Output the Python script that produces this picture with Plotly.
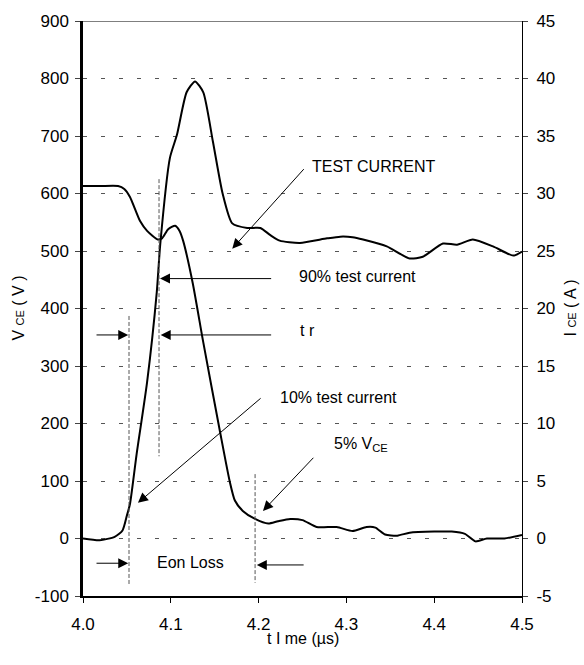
import plotly.graph_objects as go

# ---- data ----
t_vce = [4.000, 4.020, 4.040, 4.047, 4.0535, 4.065, 4.073, 4.085, 4.090, 4.097, 4.105, 4.110,
         4.114, 4.125, 4.137, 4.156, 4.167, 4.173, 4.182, 4.196, 4.211, 4.222, 4.236, 4.250,
         4.266, 4.289, 4.307, 4.323, 4.333, 4.344, 4.358, 4.372, 4.400, 4.420, 4.435, 4.447,
         4.460, 4.480, 4.500]
vce = [613, 613, 613, 608, 594, 552, 535, 520, 522, 538, 544, 535,
       518, 444, 341, 186, 100, 66, 48, 34, 26, 30, 34, 32,
       20, 20, 13, 20, 19, 7, 5, 10, 12, 12, 8, -5,
       0, 0, 6]

t_ice = [4.000, 4.019, 4.036, 4.045, 4.050, 4.0535, 4.061, 4.073, 4.084, 4.088, 4.099, 4.107,
         4.118, 4.1276, 4.137, 4.148, 4.159, 4.170, 4.187, 4.202, 4.213, 4.224, 4.247, 4.278,
         4.293, 4.307, 4.319, 4.346, 4.372, 4.387, 4.410, 4.426, 4.444, 4.467, 4.490, 4.500]
ice = [0.0, -0.15, 0.15, 0.7, 2.0, 3.0, 7.3, 13.6, 21.4, 25.6, 33.1, 35.1,
       38.8, 39.75, 38.8, 34.5, 30.0, 27.4, 27.0, 27.0, 26.4, 25.9, 25.7, 26.1,
       26.25, 26.2, 26.0, 25.4, 24.35, 24.5, 25.65, 25.55, 26.0, 25.4, 24.6, 24.95]

vce_ticks = [-100, 0, 100, 200, 300, 400, 500, 600, 700, 800, 900]
ice_ticks = [-5, 0, 5, 10, 15, 20, 25, 30, 35, 40, 45]
time_ticks = [4.0, 4.1, 4.2, 4.3, 4.4, 4.5]

# marker lines (time, y from, y to) in V-axis units
marker_lines = [(4.0866, 625, 143), (4.0524, 387, -81), (4.196, 112, -77)]

# labels: (text, x, y)
labels = [
    ("TEST CURRENT", 4.2585, 647),
    ("90% test current", 4.2437, 456),
    ("t r", 4.2449, 361),
    ("10% test current", 4.222, 246),
    ("5% V<sub>CE</sub>", 4.2836, 163),
    ("Eon Loss", 4.082, -42),
]
# arrows: (tail x, tail y, head x, head y)
arrows = [
    (4.253, 645, 4.170, 504),
    (4.216, 452, 4.0877, 452),
    (4.216, 354, 4.0885, 354),
    (4.0137, 354, 4.0515, 354),
    (4.204, 246, 4.0626, 62),
    (4.264, 143, 4.205, 48),
    (4.0137, -43, 4.0515, -43),
    (4.253, -46, 4.198, -46),
]

FONT = "Liberation Sans, Arial, sans-serif"

fig = go.Figure()
fig.add_trace(go.Scatter(x=t_vce, y=vce, mode="lines", yaxis="y",
                         line=dict(color="black", width=2, shape="spline", smoothing=0.6),
                         showlegend=False, hoverinfo="skip"))
fig.add_trace(go.Scatter(x=t_ice, y=ice, mode="lines", yaxis="y2",
                         line=dict(color="black", width=2, shape="spline", smoothing=0.6),
                         showlegend=False, hoverinfo="skip"))

for (xv, y0, y1) in marker_lines:
    fig.add_shape(type="line", xref="x", yref="y", x0=xv, x1=xv, y0=y0, y1=y1,
                  line=dict(color="#555555", width=1, dash="4px,2px"))

# top border
fig.add_shape(type="line", xref="paper", yref="y", x0=0, x1=1, y0=900, y1=900,
              line=dict(color="black", width=1))

annotations = []
for (txt, x, y) in labels:
    annotations.append(dict(text=txt, x=x, y=y, xref="x", yref="y", showarrow=False,
                            xanchor="left", yanchor="middle",
                            font=dict(family=FONT, size=16, color="black")))
for (ax, ay, hx, hy) in arrows:
    annotations.append(dict(text="", x=hx, y=hy, ax=ax, ay=ay, xref="x", yref="y",
                            axref="x", ayref="y", showarrow=True, arrowhead=2,
                            arrowsize=2, arrowwidth=1, arrowcolor="black", standoff=0))

# axis titles
annotations.append(dict(text="V <span style='font-size:11px'>CE</span> ( V )", xref="paper", yref="paper",
                        x=(18 - 83) / 439, y=0.5, textangle=-90, showarrow=False,
                        xanchor="center", yanchor="middle",
                        font=dict(family=FONT, size=16, color="black")))
annotations.append(dict(text="I <span style='font-size:11px'>CE</span> ( A )", xref="paper", yref="paper",
                        x=(570 - 83) / 439, y=0.5, textangle=-90, showarrow=False,
                        xanchor="center", yanchor="middle",
                        font=dict(family=FONT, size=16, color="black")))
annotations.append(dict(text="t I me (µs)", xref="paper", yref="paper",
                        x=0.5, y=(596 - 639) / 581, showarrow=False,
                        xanchor="center", yanchor="middle",
                        font=dict(family=FONT, size=16, color="black")))

grid = dict(showgrid=True, gridcolor="#555555", gridwidth=1, griddash="4px,14px")

fig.update_layout(
    width=584, height=665,
    margin=dict(l=83, r=62, t=15, b=69),
    paper_bgcolor="white", plot_bgcolor="white",
    font=dict(family=FONT, size=17, color="black"),
    annotations=annotations,
    xaxis=dict(range=[4.0, 4.5], tickvals=time_ticks, ticktext=[f"{v:.1f}" for v in time_ticks],
               showgrid=False, zeroline=False, showline=True, linecolor="black", linewidth=2,
               ticks="outside", ticklen=5, tickcolor="black", ticklabelstandoff=7),
    yaxis=dict(range=[-100, 900], tickvals=vce_ticks, ticktext=[str(v) for v in vce_ticks],
               zeroline=False, showline=True,
               linecolor="black", linewidth=2.5, ticks="outside", ticklen=5, tickcolor="#444",
               ticklabelstandoff=3, **grid),
    yaxis2=dict(range=[-5, 45], tickvals=ice_ticks, ticktext=[str(v) for v in ice_ticks],
                overlaying="y", side="right",
                showgrid=False, zeroline=False, showline=True, linecolor="black", linewidth=1,
                ticks="outside", ticklen=5, tickcolor="#444", ticklabelstandoff=5),
    yaxis3=dict(range=[-5, 45], tickvals=ice_ticks, overlaying="y", side="right",
                showgrid=False, zeroline=False, showline=False, showticklabels=False,
                ticks="inside", ticklen=5, tickcolor="#444"),
)

fig.write_html("out.html", config={"displayModeBar": False},
               post_script="document.body.style.margin='0';")
